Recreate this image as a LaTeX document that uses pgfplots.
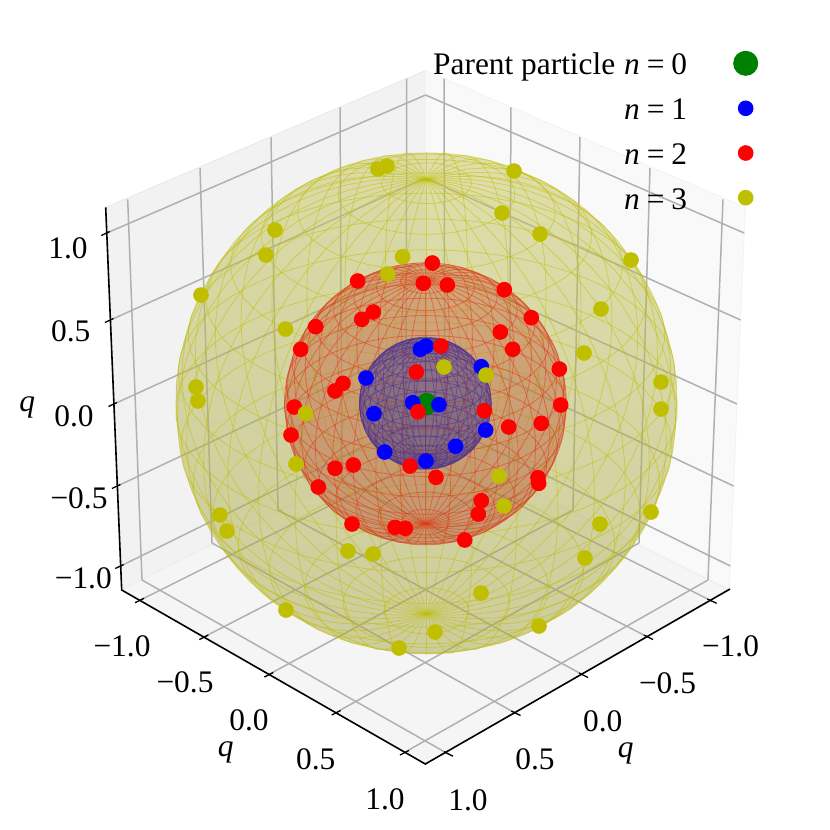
\documentclass[border=0pt]{standalone}
\usepackage{fontspec}
\setmainfont{Liberation Serif}
\usepackage{pgfplots}
\pgfplotsset{compat=1.18}
\definecolor{gridc}{HTML}{B0B0B0}
\definecolor{yy}{RGB}{191,191,0}
\definecolor{rr}{RGB}{255,0,0}
\definecolor{bb}{RGB}{0,0,255}
\definecolor{gg}{RGB}{0,128,0}
\definecolor{ytop}{RGB}{198,198,95}
\definecolor{ybot}{RGB}{165,165,70}
\definecolor{rtop}{RGB}{200,105,65}
\definecolor{rbot}{RGB}{180,85,55}
\definecolor{btop}{RGB}{80,70,150}
\definecolor{bbot}{RGB}{65,55,130}
\definecolor{rwire}{RGB}{225,55,20}
\definecolor{bwire}{RGB}{75,45,145}
\newcommand\gl[1]{\addplot[gridc,line width=1.5bp] coordinates {#1};}
\newcommand\ax[1]{\addplot[black,line width=1.6bp] coordinates {#1};}
\newcommand\tk[1]{\addplot[black,line width=1.3bp] coordinates {#1};}
\newcommand\lab[2]{\node[anchor=center,inner sep=0pt] at (axis cs:#1) {#2};}
% sphere: cx, cy, radius, perspective k, wire colour, top colour, bottom colour, fill opacity
\newcommand\sphere[8]{%
  \addplot[draw=none,top color=#6,bottom color=#7,fill opacity=#8,domain=0:360,samples=121,variable=\t]
    ({#1+#3*cos(\t)},{#2+#3*sin(\t)}) -- cycle;
  \pgfplotsinvokeforeach{0,10,...,170}{%
    \addplot[#5,draw opacity=0.5,line width=0.8bp,domain=0:360,samples=61,variable=\t]
      ({#1+#3*sin(\t)*sin(##1)/(1-#4*(cos(\t)*0.5+sin(\t)*cos(##1)*0.866))},
       {#2-#3*(cos(\t)*0.866-sin(\t)*cos(##1)*0.5)/(1-#4*(cos(\t)*0.5+sin(\t)*cos(##1)*0.866))});
  }
  \pgfplotsinvokeforeach{10,20,...,170}{%
    \addplot[#5,draw opacity=0.5,line width=0.8bp,domain=0:360,samples=61,variable=\t]
      ({#1+#3*sin(##1)*sin(\t)/(1-#4*(cos(##1)*0.5+sin(##1)*cos(\t)*0.866))},
       {#2-#3*(cos(##1)*0.866-sin(##1)*cos(\t)*0.5)/(1-#4*(cos(##1)*0.5+sin(##1)*cos(\t)*0.866))});
  }
}
\pgfplotsset{dots/.style n args={2}{only marks,mark=*,mark size=#1bp,color=#2,mark options={draw=#2,fill=#2,line width=1bp}}}
\begin{document}
\begin{tikzpicture}[font=\fontsize{31.5}{35}\selectfont]
\useasboundingbox (0,0) rectangle (830bp,830bp);
\begin{axis}[at={(0,0)},anchor=south west,scale only axis,width=830bp,height=830bp,
  xmin=0,xmax=830,ymin=0,ymax=830,y dir=reverse,hide axis,clip=false,no markers]
% panes
\addplot[fill=black!5,draw=black!9,line width=0.8bp] coordinates {(105.7,207.3)(425.5,70.5)(425.5,438)(121.7,590)(105.7,207.3)};
\addplot[fill=black!2.5,draw=black!5,line width=0.8bp] coordinates {(745.3,207.3)(425.5,70.5)(425.5,438)(729.3,590)(745.3,207.3)};
\addplot[fill=black!4,draw=black!7,line width=0.8bp] coordinates {(121.7,590)(425.5,438)(729.3,590)(425.5,764)(121.7,590)};
% grid: left pane
\gl{(127.7,199.3)(142,580)}\gl{(200,168)(212,543)}\gl{(271,137.3)(278,510)}\gl{(340,107.3)(342,480)}\gl{(406.7,78.7)(406,448)}
\gl{(106.8,233)(425.5,95)}\gl{(110.4,320)(425.5,178)}\gl{(114,404)(425.5,262)}\gl{(117.4,486)(425.5,341)}\gl{(120.7,566)(425.5,416)}
% grid: right pane
\gl{(444,78.7)(445,448)}\gl{(511,107.3)(509,480)}\gl{(580,137)(573,510)}\gl{(650,168)(639,543)}\gl{(723,199.3)(708,580)}
\gl{(744.2,233)(425.5,95)}\gl{(740.6,320)(425.5,178)}\gl{(737,404)(425.5,262)}\gl{(733.6,486)(425.5,341)}\gl{(730.3,566)(425.5,416)}
% grid: floor
\gl{(139,600.7)(445,448)}\gl{(203.3,637.3)(509,480)}\gl{(268.3,674.7)(573,510)}\gl{(335.7,712.7)(639,543)}\gl{(404,752.7)(708,580)}
\gl{(711.7,601)(406,448)}\gl{(648.3,637.3)(342,480)}\gl{(583.3,675)(278,510)}\gl{(515.7,713.3)(212,543)}\gl{(448.3,754)(142,580)}
% spheres
\sphere{426.5}{403.4}{250.5}{0.0625}{yy}{ytop}{ybot}{0.5}
\sphere{425.5}{403.8}{141}{0.035}{rwire}{rtop}{rbot}{0.45}
\sphere{425.3}{403.3}{66}{0.017}{bwire}{btop}{bbot}{0.5}
% axes
\ax{(105.7,207.3)(121.7,590)(425.3,764)(730,589)}
\tk{(101.3,235.5)(109.8,231.5)}\tk{(104.9,322.5)(113.4,318.5)}\tk{(108.5,406.5)(117,402.5)}\tk{(111.9,488.5)(120.4,484.5)}\tk{(115.2,568.5)(123.7,564.5)}
\tk{(135,602.7)(144,598.3)}\tk{(199.3,639.5)(208.3,635)}\tk{(264.3,677)(273.3,672.5)}\tk{(331.7,715)(340.7,710.5)}\tk{(400,755)(409,750.5)}
\tk{(707.3,599)(716.7,603.3)}\tk{(643.8,635)(653,639.5)}\tk{(579,673)(588,677.5)}\tk{(511.3,711)(520.5,715.5)}\tk{(444,751.7)(453,756.2)}
% labels
\lab{68,248}{1.0}\lab{70.7,331.7}{0.5}\lab{74,416}{0.0}\lab{79,498}{−0.5}\lab{83.3,578}{−1.0}
\lab{122,646}{−1.0}\lab{185,682.7}{−0.5}\lab{249,720}{0.0}\lab{315.7,759}{0.5}\lab{385,799.3}{1.0}
\lab{730.5,646}{−1.0}\lab{667.5,683.3}{−0.5}\lab{602.7,721}{0.0}\lab{535,759.3}{0.5}\lab{468,800}{1.0}
\lab{27.3,407.7}{\textit{q}}\lab{225.7,752.7}{\textit{q}}\lab{625.7,753.3}{\textit{q}}
% n = 0
\addplot[dots={10.5}{gg}] coordinates {(426.7,404)};
% n = 1
\addplot[dots={7.3}{bb}] coordinates {
(426,346)(420.3,349.3)(481.3,366.7)(366,378)(412.7,402.7)(439,404.7)(374,413.7)(485.7,430)(455.7,446.3)(384.7,452)(426,461)};
% n = 2
\addplot[dots={7.3}{rr}] coordinates {
(432.3,263)(357.7,281)(423.3,283.3)(447.3,285)(504.3,289.7)(531.3,317.7)(373.3,312)(361.7,319.3)(315.7,326.7)(500.3,332)
(512.7,349.3)(300.7,349.3)(441,346)(559.3,369)(416.3,372)(343,383.3)(335,391)(560.7,405)(294.3,407)(484.3,410.7)
(418,411.7)(541.3,423.3)(508.7,427)(291,435)(353.3,465)(335,468.3)(410,466)(436,477.3)(538,477.7)(538.7,483.3)
(318.3,487)(481.3,500.7)(478.3,514)(352,524)(395,527.3)(405.3,528.3)(464.7,540)};
% n = 3
\addplot[dots={7.3}{yy}] coordinates {
(378,169)(387,166)(514,171)(275,230)(266,255)(201,295)(402.7,256.7)(387.7,274)(502,213)(540,234)
(631,260)(601,309)(285.5,329)(584,353)(444,367)(486,375)(661,382)(661,409)(196,387)(198,401)
(305.5,413.5)(296,464)(499,476)(504,506)(651,512)(600,524)(220,515)(227,531)(348,551)(373,554)
(585,558)(481,593)(286,610)(539,626)(435,632)(399,648)};
% legend
\node[anchor=base west,inner sep=0pt] at (axis cs:433,74) {Parent particle};
\node[anchor=base west,inner sep=0pt] at (axis cs:624,74) {\textit{n}\hspace{0.22em}=\hspace{0.22em}0};
\node[anchor=base west,inner sep=0pt] at (axis cs:624,119.3) {\textit{n}\hspace{0.22em}=\hspace{0.22em}1};
\node[anchor=base west,inner sep=0pt] at (axis cs:624,164) {\textit{n}\hspace{0.22em}=\hspace{0.22em}2};
\node[anchor=base west,inner sep=0pt] at (axis cs:624,209) {\textit{n}\hspace{0.22em}=\hspace{0.22em}3};
\addplot[dots={12}{gg}] coordinates {(745.7,63.3)};
\addplot[dots={7.3}{bb}] coordinates {(745.7,108.3)};
\addplot[dots={7.3}{rr}] coordinates {(745.7,153)};
\addplot[dots={7.3}{yy}] coordinates {(745.7,197.7)};
\end{axis}
\end{tikzpicture}
\end{document}
